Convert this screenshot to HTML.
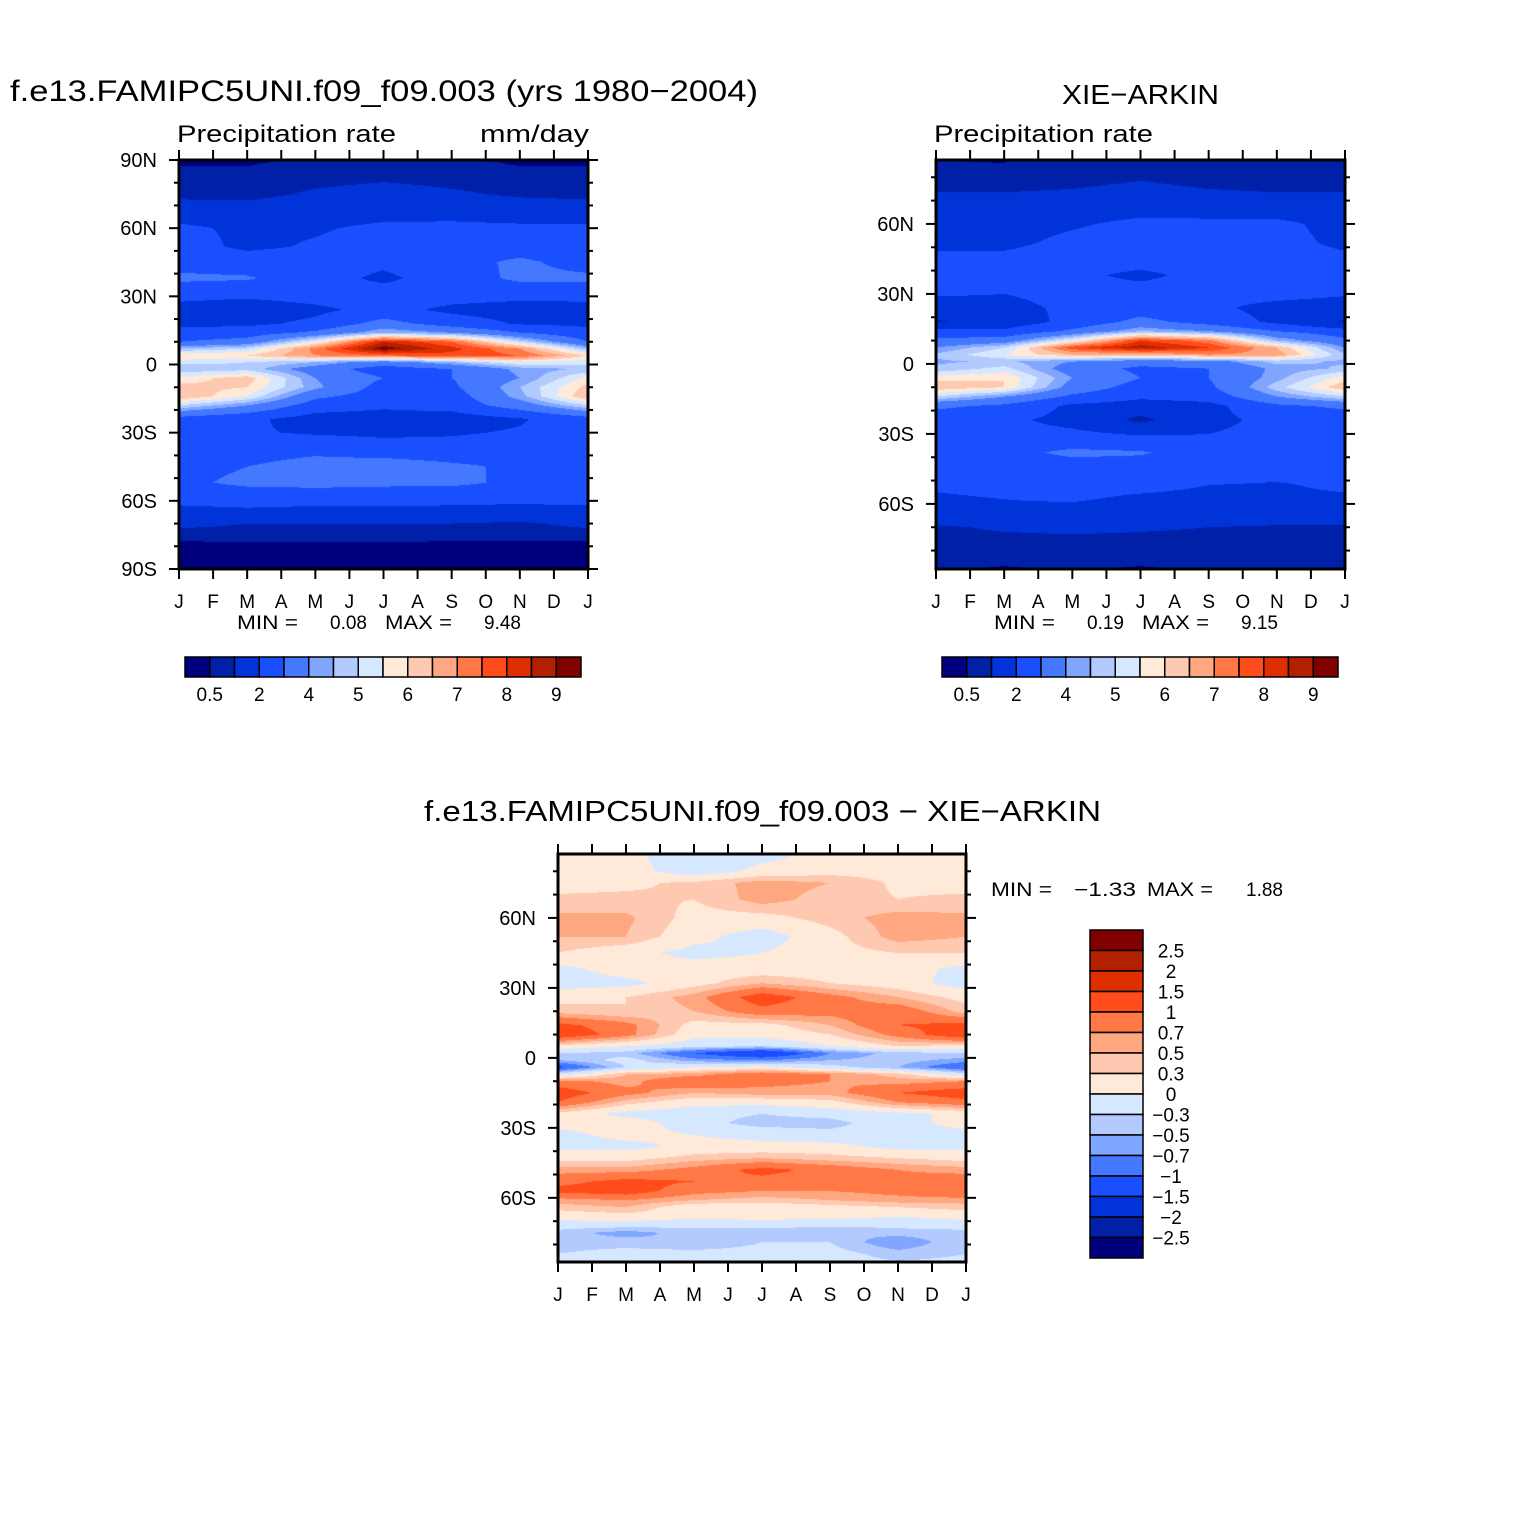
<!DOCTYPE html>
<html><head><meta charset="utf-8">
<style>
html,body{margin:0;padding:0;background:#fff;}
#root{position:relative;width:1524px;height:1524px;overflow:hidden;background:#fff;}
canvas{position:absolute;}
svg{position:absolute;left:0;top:0;}
text{font-family:"Liberation Sans",sans-serif;fill:#000;}
</style></head>
<body>
<div id="root">
<canvas id="c1" width="409" height="409" style="left:179px;top:160px"></canvas>
<canvas id="c2" width="409" height="409" style="left:936px;top:160px"></canvas>
<canvas id="c3" width="408" height="408" style="left:558px;top:854px"></canvas>
<svg id="sv" width="1524" height="1524"></svg>
</div>
<script>
// ---------- data ----------
const monthLabels = ["J","F","M","A","M","J","J","A","S","O","N","D","J"];
const colMonths = [0,2,4,6,8,10,12];
const lats = [90,82,75,68,60,52,45,38,30,24,18,14,10,7,4,1,-2,-6,-10,-14,-18,-24,-30,-38,-45,-52,-58,-64,-70,-76,-80,-90];
const precipLevels = [0.5,1,2,3,4,4.5,5,5.5,6,6.5,7,7.5,8,8.5,9];
const precipLevelLabels = ["0.5","2","4","5","6","7","8","9"];
const diffLevels = [-2.5,-2,-1.5,-1,-0.7,-0.5,-0.3,0,0.3,0.5,0.7,1,1.5,2,2.5];
const diffLevelLabels = ["2.5","2","1.5","1","0.7","0.5","0.3","0","\u22120.3","\u22120.5","\u22120.7","\u22121","\u22121.5","\u22122","\u22122.5"];
const palette = ["#00007f","#0020a8","#0033d8","#1a4fff","#4479ff","#80a6ff","#b3caff","#d6e8ff","#ffe9d9","#ffc9b1","#ffa780","#ff7846","#ff4c1a","#df2e00","#b32000","#800000"];
const modelPrecip = [
[.4,.4,.6,.7,.6,.4,.4],[.7,.7,.8,.9,.8,.7,.7],[.8,.8,1.1,1.3,1.1,.9,.8],[1.4,1.3,1.5,1.6,1.5,1.4,1.4],
[2.2,1.8,1.9,2.2,2.3,2.2,2.2],[2.4,1.8,2.1,2.4,2.4,2.5,2.4],[2.6,2.5,2.5,2.2,2.6,3.2,2.6],[3.2,3.1,2.4,1.8,2.5,3.2,3.2],
[2.2,2.1,2.3,2.5,2.3,2.2,2.2],[1.7,1.5,1.8,2.3,1.8,1.6,1.7],[1.8,1.8,2.2,3.4,2.5,1.9,1.8],[2.3,2.5,3.2,4.5,4,3.0,2.3],
[3,3.4,5.5,8.5,7.5,5,3],[4.5,5,7.2,9.3,8.2,7,4.5],[6,6,7,7.5,7.8,7.5,6],[5.2,5,4.5,3.5,4.5,5.5,5.2],
[4.6,4.8,3.5,2.5,3,4.2,4.6],[5.7,6.3,4,3,3,4,5.7],[6.2,6,4.2,2.6,2.8,4.5,6.2],[6.5,5.5,3.2,2.5,2.5,4.3,6.5],
[5,4,2.5,2.2,2.4,3.5,5],[2.6,2.2,1.6,1.5,1.5,1.9,2.6],[2.4,2.1,1.9,1.8,1.9,2.1,2.4],[2.5,2.6,2.8,2.5,2.4,2.5,2.5],
[2.7,3,3.4,3.6,3.2,2.8,2.7],[2.8,3.2,3.3,3.2,3.2,2.8,2.8],[2.4,2.5,2.5,2.5,2.4,2.4,2.4],[1.8,1.9,1.8,1.8,1.8,1.7,1.8],
[1.2,1,1,1,1,.9,1.2],[.6,.7,.7,.7,.6,.6,.6],[.35,.35,.35,.35,.35,.35,.35],[.3,.3,.3,.3,.3,.3,.3]];
const obsPrecip = [
[.4,.4,.9,.8,.6,.4,.4],[.7,.6,.8,.9,.8,.7,.7],[.9,.9,1,1.1,1,.9,.9],[1.5,1.4,1.5,1.6,1.5,1.4,1.5],
[1.7,1.7,1.9,2.2,2.2,2.2,1.7],[1.8,1.8,2.2,2.4,2.5,2.3,1.8],[2.2,2.2,2.4,2.4,2.4,2.4,2.2],[2.4,2.3,2.2,1.8,2.3,2.6,2.4],
[2.1,2,2.3,2.4,2.3,2.3,2.1],[1.5,1.7,2.2,2.5,2.2,1.7,1.5],[0.9,1.4,2.3,3.3,2.6,1.8,0.9],[2.4,2.2,3.2,4.5,4,3,2.4],
[3.2,3.5,5.5,8,7.2,4.5,3.2],[4,5,7.8,8.8,8,6.5,4],[4.6,5.5,6.5,6.5,7,6.8,4.6],[4.4,4.6,4,3.4,3.6,4.7,4.4],
[4.6,5.2,3.5,2.8,3,4.2,4.6],[5.8,6,4,3,3,4.3,5.8],[6.4,6,3.6,2.6,2.8,4.8,6.4],[5,4,2.8,2.2,2.4,4,5],
[3.2,2.8,1.8,1.5,1.7,2.8,3.2],[2.4,2.2,1.7,0.8,1.7,2.3,2.4],[2.3,2.3,2.2,1.9,2,2.3,2.3],[2.5,2.7,3.2,3.1,2.5,2.5,2.5],
[2.4,2.5,2.5,2.5,2.5,2.4,2.4],[2.2,2.4,2.4,2.3,2,1.9,2.2],[1.8,2,2.1,1.8,1.7,1.8,1.8],[1.6,1.8,1.6,1.6,1.6,1.6,1.6],
[.9,1.1,1.2,1.1,1,.9,.9],[.8,.8,.8,.8,.8,.8,.8],[.7,.7,.7,.7,.7,.7,.7],[.5,.4,.5,.4,.5,.5,.5]];
const diffLats = [90,80,75,68,60,52,45,38,32,26,20,14,10,5,2,-1,-4,-7,-10,-15,-19,-24,-28,-33,-38,-43,-48,-53,-57,-61,-64,-68,-71,-75,-79,-84,-90];
const diffValues = [
[.15,.1,-.3,-.2,.1,.15,.15],[.2,.15,-.2,.1,.2,.2,.2],[.2,.25,.35,.6,.5,.25,.2],[.35,.35,.3,.6,.4,.3,.35],
[.55,.55,.2,.2,.4,.6,.55],[.5,.5,.1,-.15,.2,.6,.5],[.3,.1,-.1,0,.2,.3,.3],[-.1,.15,.15,.15,.15,.15,-.1],
[-.15,-.1,.2,.5,.3,.15,-.15],[.2,.3,.6,1.2,.8,.5,.2],[.4,.3,.5,.9,.8,.9,.4],[1.1,.8,.2,.2,.5,1.0,1.1],
[1.3,.8,.1,.1,.3,.8,1.3],[.2,0,-.2,-.3,0,.3,.2],[-.3,-.4,-1.0,-1.5,-.7,-.4,-.3],[-.5,-.2,-.6,-.7,-.5,-.4,-.6],
[-1.1,-.3,0,.1,-.2,-.5,-1.0],[-.2,.5,.6,.9,.7,.4,-.2],[.8,.6,1.0,.8,.7,.6,.7],[1.2,.8,.5,.6,.6,1.0,1.2],
[1.0,.4,.1,.1,.2,.7,.9],[.2,-.1,-.2,-.3,-.2,-.1,.1],[.1,.2,-.2,-.4,-.4,-.1,.1],[-.1,.1,0,-.1,-.2,-.1,-.1],
[-.1,-.1,.1,.1,.1,-.1,-.1],[.2,.2,.4,.5,.4,.3,.2],[.6,.6,.8,1.1,.9,.7,.6],[.9,1.1,1.0,.9,.8,.8,.9],
[1.1,1.2,.8,.7,.7,.8,1.0],[.6,.7,.5,.4,.5,.6,.6],[.4,.5,.1,.1,.2,.3,.4],[.1,.2,.1,.1,.1,0,.1],
[-.1,-.1,-.2,-.1,-.2,-.2,-.1],[-.4,-.6,-.4,-.5,-.5,-.4,-.4],[-.4,-.4,-.5,-.3,-.3,-.7,-.3],[-.3,-.2,-.2,-.2,-.2,-.4,-.3],[-.2,-.2,-.2,-.2,-.2,-.2,-.2]];

// ---------- rendering ----------
function sample(grid, latArr, month, lat){
  let i=0; while(i<latArr.length-2 && lat<latArr[i+1]) i++;
  let t=(latArr[i]-lat)/(latArr[i]-latArr[i+1]); t=Math.max(0,Math.min(1,t));
  let j=0; while(j<colMonths.length-2 && month>colMonths[j+1]) j++;
  let s=(month-colMonths[j])/(colMonths[j+1]-colMonths[j]); s=Math.max(0,Math.min(1,s));
  const a=grid[i][j]*(1-s)+grid[i][j+1]*s, b=grid[i+1][j]*(1-s)+grid[i+1][j+1]*s;
  return a*(1-t)+b*t;
}
function hex(c){return [parseInt(c.slice(1,3),16),parseInt(c.slice(3,5),16),parseInt(c.slice(5,7),16)];}
const rgb=palette.map(hex);
function drawField(id, grid, latArr, levels, latTop, latBot){
  const cv=document.getElementById(id), ctx=cv.getContext('2d');
  const W=cv.width,H=cv.height, img=ctx.createImageData(W,H);
  for(let y=0;y<H;y++){const lat=latTop+(latBot-latTop)*(y+0.5)/H;
    for(let x=0;x<W;x++){const m=12*(x+0.5)/W; const v=sample(grid,latArr,m,lat);
      let k=0; while(k<levels.length && v>=levels[k]) k++;
      const c=rgb[k], p=(y*W+x)*4; img.data[p]=c[0];img.data[p+1]=c[1];img.data[p+2]=c[2];img.data[p+3]=255;}}
  ctx.putImageData(img,0,0);
}
drawField('c1',modelPrecip,lats,precipLevels,90,-90);
drawField('c2',obsPrecip,lats,precipLevels,87.4,-87.9);
drawField('c3',diffValues,diffLats,diffLevels,87.4,-87.5);

// ---------- annotations ----------
const NS="http://www.w3.org/2000/svg", sv=document.getElementById('sv');
function el(tag,attrs,parent){const e=document.createElementNS(NS,tag);for(const k in attrs)e.setAttribute(k,attrs[k]);(parent||sv).appendChild(e);return e;}
function txt(s,x,y,size,anchor,len,name){const t=el('text',{x:x,y:y,'font-size':size,'text-anchor':anchor||'start'});
  if(len){t.setAttribute('textLength',len);t.setAttribute('lengthAdjust','spacingAndGlyphs');}
  t.textContent=s;
  
  
  return t;}
function line(x1,y1,x2,y2,w){const l=el('line',{x1:x1,y1:y1,x2:x2,y2:y2,stroke:'#000','stroke-width':w||2});
  
  
  return l;}
function panel(x0,y0,W,H,latTop,latBot,majorLats,latNames,pfx){
  const r=el('rect',{x:x0,y:y0,width:W,height:H,fill:'none',stroke:'#000','stroke-width':3});
  
  
  const ly=lat=>y0+(latTop-lat)/(latTop-latBot)*H;
  for(let lat=90;lat>=-90;lat-=10){ if(lat>latTop+0.01||lat<latBot-0.01) continue;
    const y=ly(lat), major=lat%30===0, L=major?10:5;
    line(x0-L,y,x0,y,2); line(x0+W,y,x0+W+L,y,2);}
  majorLats.forEach((lat,i)=>{ txt(latNames[i],x0-22,ly(lat)+7,20,'end',null,pfx+'-y-tick-label');});
  for(let m=0;m<13;m++){const x=x0+W*m/12; line(x,y0-10,x,y0,2); line(x,y0+H,x,y0+H+10,2);
    txt(monthLabels[m],x,y0+H+39,19,'middle',null,pfx+'-x-tick-label');}
}
panel(179,160,409,409,90,-90,[90,60,30,0,-30,-60,-90],["90N","60N","30N","0","30S","60S","90S"],'model');
panel(936,160,409,409,87.4,-87.9,[60,30,0,-30,-60],["60N","30N","0","30S","60S"],'obs');
panel(558,854,408,408,87.4,-87.5,[60,30,0,-30,-60],["60N","30N","0","30S","60S"],'diff');

txt("f.e13.FAMIPC5UNI.f09_f09.003 (yrs 1980\u22122004)",10,101,30,'start',748,'model-title');
txt("Precipitation  rate",177,142,24,'start',219,'model-subtitle');
txt("mm/day",480,142,24,'start',109,'model-units');
txt("XIE\u2212ARKIN",1062,104,28,'start',157,'obs-title');
txt("Precipitation  rate",934,142,24,'start',219,'obs-subtitle');
txt("f.e13.FAMIPC5UNI.f09_f09.003  \u2212  XIE\u2212ARKIN",424,821,29,'start',677,'diff-title');

function minmax(x,y,mn,mx,pfx){
  txt("MIN =",x,y,19,'start',61,pfx+'-min-label');
  txt(mn,x+93+(mn.length>4?-17:0),y,19,'start',null,pfx+'-min-value');
  txt("MAX =",x+148,y,19,'start',67,pfx+'-max-label');
  txt(mx,x+247,y,19,'start',null,pfx+'-max-value');
}
minmax(237,629,"0.08","9.48",'model');
minmax(994,629,"0.19","9.15",'obs');
txt("MIN =",991,896,19,'start',61,'diff-min-label');
txt("\u22121.33",1074,896,19,'start',62,'diff-min-value');
txt("MAX =",1147,896,19,'start',66,'diff-max-label');
txt("1.88",1246,896,19,'start',null,'diff-max-value');

function hbar(x0,y0,pfx){const w=396/16;
  palette.forEach((c,i)=>{const r=el('rect',{x:x0+i*w,y:y0,width:w,height:20,fill:c,stroke:'#000','stroke-width':1.5});
    
    });
  precipLevelLabels.forEach((s,i)=>{txt(s,x0+w*(1+2*i),y0+44,19,'middle',null,pfx+'-colorbar-label');});
}
hbar(185,657,'model'); hbar(942,657,'obs');
(function(){const x0=1090,y0=930,h=328/16;
  for(let i=0;i<16;i++){const r=el('rect',{x:x0,y:y0+i*h,width:53,height:h,fill:palette[15-i],stroke:'#000','stroke-width':1.5});
    
    }
  diffLevelLabels.forEach((s,i)=>{txt(s,1171,y0+h*(i+1)+7,19,'middle',null,'diff-colorbar-label');});
})();
</script>
</body></html>
